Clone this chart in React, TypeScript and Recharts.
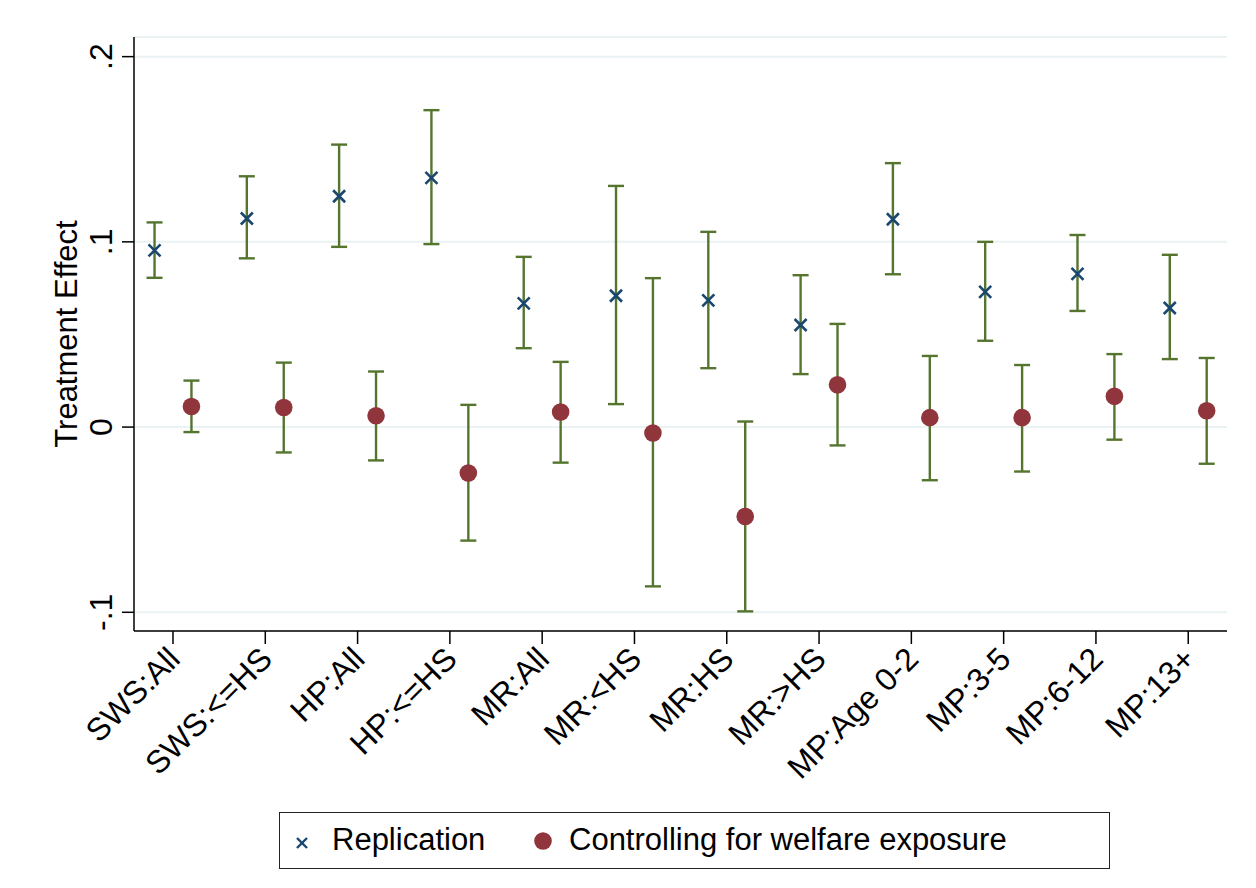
import React from 'react';
import { ComposedChart, Scatter, XAxis, YAxis, CartesianGrid, ErrorBar, Legend } from 'recharts';

const categories = ['SWS:All', 'SWS:<=HS', 'HP:All', 'HP:<=HS', 'MR:All', 'MR:<HS', 'MR:HS', 'MR:>HS', 'MP:Age 0-2', 'MP:3-5', 'MP:6-12', 'MP:13+'];

const replicationEst = [0.0954, 0.1126, 0.1246, 0.1345, 0.0668, 0.0709, 0.0684, 0.0551, 0.1122, 0.0730, 0.0827, 0.0643];
const replicationLo = [0.0806, 0.0911, 0.0973, 0.0988, 0.0426, 0.0124, 0.0318, 0.0286, 0.0825, 0.0466, 0.0627, 0.0367];
const replicationHi = [0.1105, 0.1354, 0.1525, 0.1711, 0.0919, 0.1302, 0.1054, 0.0820, 0.1425, 0.1000, 0.1037, 0.0930];

const controlEst = [0.0111, 0.0106, 0.0061, -0.0248, 0.0081, -0.0032, -0.0483, 0.0228, 0.0051, 0.0051, 0.0166, 0.0088];
const controlLo = [-0.0027, -0.0137, -0.0180, -0.0613, -0.0192, -0.0860, -0.0995, -0.0099, -0.0287, -0.0240, -0.0068, -0.0198];
const controlHi = [0.0251, 0.0348, 0.0300, 0.0120, 0.0352, 0.0804, 0.0030, 0.0557, 0.0384, 0.0335, 0.0394, 0.0373];

const yTicks = [-0.1, 0, 0.1, 0.2];
const yTickLabels = ['-.1', '0', '.1', '.2'];

const seriesNames = ['Replication', 'Controlling for welfare exposure'];

const NAVY = '#1a476f';
const MAROON = '#90353b';
const GREEN = '#55752f';
const GRID = '#eaf2f3';
const FONT = '"Liberation Sans", Arial, sans-serif';
const OFFSET = 0.2;

const xTicks = categories.map((_, i) => i + 1);

const repData = categories.map((c, i) => ({
  x: i + 1 - OFFSET,
  y: replicationEst[i],
  err: [replicationEst[i] - replicationLo[i], replicationHi[i] - replicationEst[i]],
  name: c,
}));
const ctrlData = categories.map((c, i) => ({
  x: i + 1 + OFFSET,
  y: controlEst[i],
  err: [controlEst[i] - controlLo[i], controlHi[i] - controlEst[i]],
  name: c,
}));

const CrossShape = (props: any) => {
  const { cx, cy } = props;
  const h = 6;
  return (
    <g>
      <line x1={cx - h} y1={cy - h} x2={cx + h} y2={cy + h} stroke={NAVY} strokeWidth={2.6} />
      <line x1={cx - h} y1={cy + h} x2={cx + h} y2={cy - h} stroke={NAVY} strokeWidth={2.6} />
    </g>
  );
};

const DotShape = (props: any) => {
  const { cx, cy } = props;
  return <circle cx={cx} cy={cy} r={8.8} fill={MAROON} />;
};

const EmptyShape = () => <g />;

const XTick = (props: any) => {
  const { x, y, payload } = props;
  const label = categories[Math.round(payload.value) - 1] ?? '';
  const ax = x + 1;
  const ay = y + 7;
  return (
    <text
      x={ax}
      y={ay}
      dy="0.35em"
      transform={`rotate(-45 ${ax} ${ay})`}
      textAnchor="end"
      fontSize={32}
      fontFamily={FONT}
      fill="#000"
    >
      {label}
    </text>
  );
};

const YTick = (props: any) => {
  const { x, y, payload } = props;
  const idx = yTicks.findIndex((t) => Math.abs(t - payload.value) < 1e-9);
  const label = idx >= 0 ? yTickLabels[idx] : String(payload.value);
  const ax = x - 7.5;
  return (
    <text
      x={ax}
      y={y}
      transform={`rotate(-90 ${ax} ${y})`}
      textAnchor="middle"
      fontSize={32}
      fontFamily={FONT}
      fill="#000"
    >
      {label}
    </text>
  );
};

const YTitle = (props: any) => {
  const vb = props.viewBox || { x: 0, y: 29, width: 126, height: 594 };
  const cx = vb.x + 69;
  const cy = vb.y + vb.height / 2;
  return (
    <text
      x={cx}
      y={cy}
      transform={`rotate(-90 ${cx} ${cy})`}
      textAnchor="middle"
      fontSize={31}
      fontFamily={FONT}
      fill="#000"
    >
      Treatment Effect
    </text>
  );
};

const LegendBox = () => (
  <div
    style={{
      position: 'relative',
      width: 831,
      height: 57,
      boxSizing: 'border-box',
      border: '1.5px solid #222',
      background: '#fff',
      fontFamily: FONT,
      fontSize: 31,
      color: '#000',
    }}
  >
    <svg width={831} height={57} style={{ position: 'absolute', left: -1.5, top: -1.5 }}>
      <line x1={23 - 5} y1={31 - 5} x2={23 + 5} y2={31 + 5} stroke={NAVY} strokeWidth={2.4} />
      <line x1={23 - 5} y1={31 + 5} x2={23 + 5} y2={31 - 5} stroke={NAVY} strokeWidth={2.4} />
      <circle cx={264} cy={29} r={8.8} fill={MAROON} />
    </svg>
    <span style={{ position: 'absolute', left: 52, top: 10, lineHeight: '34px', whiteSpace: 'nowrap' }}>{seriesNames[0]}</span>
    <span style={{ position: 'absolute', left: 289, top: 10, lineHeight: '34px', whiteSpace: 'nowrap' }}>{seriesNames[1]}</span>
  </div>
);

export default function App() {
  return (
    <div style={{ width: 1240, height: 872, background: '#fff', fontFamily: FONT }}>
      <ComposedChart
        width={1240}
        height={872}
        margin={{ top: 29, right: 21, bottom: 74, left: 0 }}
        style={{ background: '#fff' }}
      >
        <CartesianGrid horizontal={true} vertical={false} stroke={GRID} strokeWidth={2} />
        <XAxis
          type="number"
          dataKey="x"
          domain={[0.5775, 12.42]}
          ticks={xTicks}
          interval={0}
          allowDataOverflow
          height={175}
          tickSize={13}
          tick={<XTick />}
          axisLine={{ stroke: '#000', strokeWidth: 1.5 }}
          tickLine={{ stroke: '#000', strokeWidth: 1.5 }}
        />
        <YAxis
          type="number"
          dataKey="y"
          domain={[-0.1101, 0.2106]}
          ticks={yTicks}
          interval={0}
          allowDataOverflow
          width={126}
          tickSize={12}
          tick={<YTick />}
          axisLine={{ stroke: '#000', strokeWidth: 1.5 }}
          tickLine={{ stroke: '#000', strokeWidth: 1.5 }}
          label={<YTitle />}
        />
        <Scatter name={seriesNames[1]} data={ctrlData} shape={<DotShape />} isAnimationActive={false} />
        <Scatter name="ctrl-ci" data={ctrlData} shape={<EmptyShape />} isAnimationActive={false} legendType="none">
          <ErrorBar dataKey="err" direction="y" width={8} stroke={GREEN} strokeWidth={2.4} isAnimationActive={false} />
        </Scatter>
        <Scatter name="rep-ci" data={repData} shape={<EmptyShape />} isAnimationActive={false} legendType="none">
          <ErrorBar dataKey="err" direction="y" width={8} stroke={GREEN} strokeWidth={2.4} isAnimationActive={false} />
        </Scatter>
        <Scatter name={seriesNames[0]} data={repData} shape={<CrossShape />} isAnimationActive={false} />
        <Legend
          layout="horizontal"
          verticalAlign="middle"
          align="center"
          wrapperStyle={{ top: 804, left: 271, width: 831, height: 57 }}
          content={() => <LegendBox />}
        />
      </ComposedChart>
    </div>
  );
}
